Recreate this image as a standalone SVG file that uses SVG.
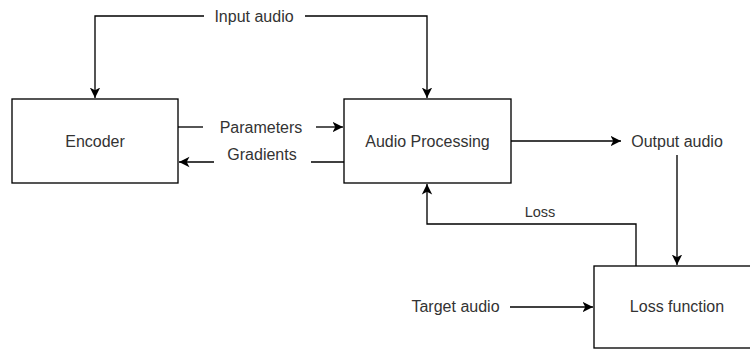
<svg xmlns="http://www.w3.org/2000/svg" width="750" height="349" viewBox="0 0 750 349">
<style>
.box{fill:#fff;stroke:#000;stroke-width:1.33}
.ln{fill:none;stroke:#000;stroke-width:1.33}
.t{font-family:"Liberation Sans",Arial,sans-serif;font-size:16px;fill:#333;text-anchor:middle}
.s{font-size:14.5px}
</style>
<defs>
<marker id="ar" markerUnits="userSpaceOnUse" markerWidth="12" markerHeight="12" viewBox="0 0 12 12" refX="10.5" refY="6" orient="auto">
<path d="M0,0.8 L10.5,6 L0,11.2 L2.8,6 Z" fill="#000"/>
</marker>
</defs>
<rect width="750" height="349" fill="#fff"/>
<g id="connectors">
<path class="ln" d="M204,16 H95 V98" marker-end="url(#ar)"/>
<path class="ln" d="M305,16 H427 V98" marker-end="url(#ar)"/>
<path class="ln" d="M178,127 H203"/>
<path class="ln" d="M316,127 H343" marker-end="url(#ar)"/>
<path class="ln" d="M344,162 H311"/>
<path class="ln" d="M214,162 H179" marker-end="url(#ar)"/>
<path class="ln" d="M511,141 H621" marker-end="url(#ar)"/>
<path class="ln" d="M677,155 V265" marker-end="url(#ar)"/>
<path class="ln" d="M636,266 V224 H427 V184" marker-end="url(#ar)"/>
<path class="ln" d="M510,307 H593" marker-end="url(#ar)"/>
<text class="t" x="254" y="22">Input audio</text>
<text class="t" x="261" y="133">Parameters</text>
<text class="t" x="262" y="160">Gradients</text>
<text class="t s" x="540" y="217">Loss</text>
</g>
<g id="encoder">
<rect class="box" x="12" y="99" width="166" height="84"/>
<text class="t" x="95" y="147">Encoder</text>
</g>
<g id="audio-processing">
<rect class="box" x="344" y="99" width="167" height="84"/>
<text class="t" x="427.5" y="147">Audio Processing</text>
</g>
<g id="output-audio">
<text class="t" x="677" y="147">Output audio</text>
</g>
<g id="target-audio">
<text class="t" x="455.5" y="312">Target audio</text>
</g>
<g id="loss-function">
<rect class="box" x="594" y="266" width="166" height="82"/>
<text class="t" x="677" y="312">Loss function</text>
</g>
</svg>
